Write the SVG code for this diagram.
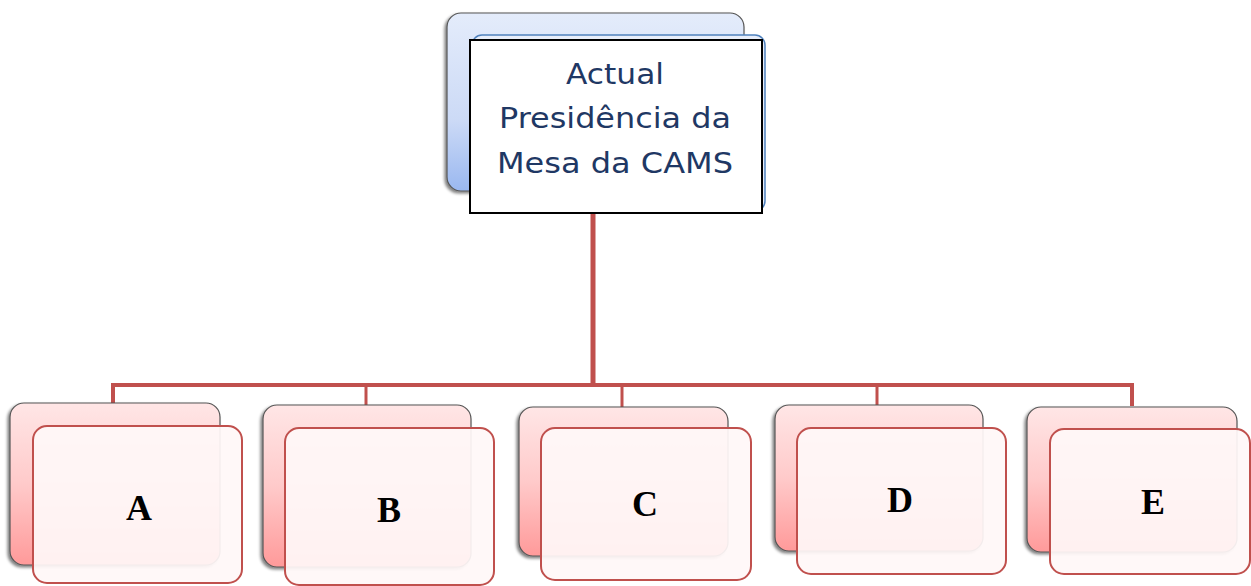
<svg xmlns="http://www.w3.org/2000/svg" width="1251" height="586" viewBox="0 0 1251 586">
<style>
.back{stroke:#555;stroke-width:1.2;filter:url(#sh)}
.pback{fill:url(#pg)}
.front{fill:#fff8f8;fill-opacity:0.93;stroke:#c0504d;stroke-width:2}
.lbl{font-family:"Liberation Serif","Times New Roman",serif;font-weight:bold;font-size:36px;fill:#000;text-anchor:middle}
.top{font-family:"DejaVu Sans",Verdana,sans-serif;font-size:28px;fill:#1f3864;text-anchor:middle}
.conn{stroke:#c0504d;fill:none}
</style>
<defs>
<linearGradient id="pg" x1="0" y1="0" x2="0" y2="1">
<stop offset="0" stop-color="#ffe6e6"/>
<stop offset="0.5" stop-color="#ffcaca"/>
<stop offset="1" stop-color="#ff9a9a"/>
</linearGradient>
<linearGradient id="bg" x1="0" y1="0" x2="0" y2="1">
<stop offset="0" stop-color="#e4ecfb"/>
<stop offset="0.6" stop-color="#ccdaf6"/>
<stop offset="1" stop-color="#9ab8f0"/>
</linearGradient>
<filter id="sh" x="-10%" y="-10%" width="120%" height="120%">
<feGaussianBlur in="SourceAlpha" stdDeviation="1.5"/>
<feOffset dx="-2" dy="2"/>
<feComponentTransfer><feFuncA type="linear" slope="0.5"/></feComponentTransfer>
<feMerge><feMergeNode/><feMergeNode in="SourceGraphic"/></feMerge>
</filter>
</defs>
<g id="connectors">
<line class="conn" x1="593" y1="213" x2="593" y2="386" stroke-width="5"/>
<polyline class="conn" points="113,404 113,385 1132,385 1132,406" stroke-width="4"/>
<line class="conn" x1="366" y1="385" x2="366" y2="406" stroke-width="3"/>
<line class="conn" x1="622" y1="385" x2="622" y2="408" stroke-width="3"/>
<line class="conn" x1="877" y1="385" x2="877" y2="406" stroke-width="3"/>
</g>
<g id="node-top">
<rect x="447" y="13" width="297" height="178" rx="14" fill="url(#bg)" class="back"/>
<rect x="472" y="35" width="293" height="176" rx="10" fill="#e8eefa" stroke="#4f81bd" stroke-width="1.5"/>
<rect x="470" y="40" width="292" height="173" fill="#fff" stroke="#000" stroke-width="2"/>
<text class="top" x="615" y="84" textLength="98" lengthAdjust="spacingAndGlyphs">Actual</text>
<text class="top" x="615" y="128" textLength="232" lengthAdjust="spacingAndGlyphs">Presidência da</text>
<text class="top" x="615" y="173" textLength="236" lengthAdjust="spacingAndGlyphs">Mesa da CAMS</text>
</g>
<g id="node-A">
<rect x="10" y="403" width="210" height="162" rx="14" class="back pback"/>
<rect x="33" y="426" width="209" height="157" rx="14" class="front"/>
<text class="lbl" x="139" y="520">A</text>
</g>
<g id="node-B">
<rect x="263" y="405" width="208" height="162" rx="14" class="back pback"/>
<rect x="285" y="428" width="209" height="157" rx="14" class="front"/>
<text class="lbl" x="389" y="522">B</text>
</g>
<g id="node-C">
<rect x="519" y="407" width="209" height="149" rx="14" class="back pback"/>
<rect x="541" y="428" width="210" height="152" rx="14" class="front"/>
<text class="lbl" x="645" y="516">C</text>
</g>
<g id="node-D">
<rect x="775" y="405" width="208" height="146" rx="14" class="back pback"/>
<rect x="797" y="428" width="209" height="146" rx="14" class="front"/>
<text class="lbl" x="900" y="512">D</text>
</g>
<g id="node-E">
<rect x="1027" y="407" width="210" height="145" rx="14" class="back pback"/>
<rect x="1050" y="429" width="200" height="145" rx="14" class="front"/>
<text class="lbl" x="1153" y="514">E</text>
</g>
</svg>
